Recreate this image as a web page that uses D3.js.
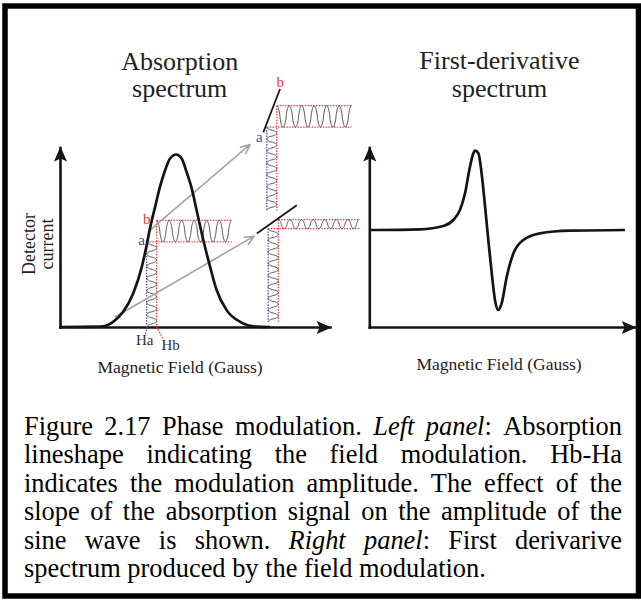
<!DOCTYPE html>
<html>
<head>
<meta charset="utf-8">
<script src="https://cdn.jsdelivr.net/npm/d3@7"></script>
<style>
  body { margin: 0; background: #fff; }
  svg { display: block; }
  text { font-family: "Liberation Serif", "Times New Roman", serif; }
</style>
</head>
<body>
<svg id="chart" width="641" height="600"></svg>
<script>
// Absorption curve (field 0-100, detector current 0-100)
const absField  = [0, 14.8, 19.7, 23.4, 27.1, 30.3, 32.1, 33.3, 35.2, 37.0, 38.9, 40.7, 43.0,
                   45.1, 46.9, 48.8, 50.6, 53.1, 55.6, 58.0, 61.7, 66.7, 72.9, 77.8];
const absSignal = [0, 0.2, 2.9, 8.5, 18.7, 33.5, 45.6, 54.8, 66.8, 77.9, 87.2, 93.7, 96.1,
                   93.7, 86.3, 77.1, 65.0, 48.3, 33.5, 20.6, 9.4, 2.9, 0.2, 0];

// First-derivative curve (field 0-100, signal around zero)
const derivField  = [0, 19.0, 27.7, 31.4, 33.9, 35.8, 37.4, 38.7, 39.5, 40.8, 42.0, 43.3,
                     44.5, 45.8, 47.0, 48.2, 49.5, 51.4, 53.9, 57.6, 63.8, 75.1, 95.6];
const derivSignal = [0, 0.7, 4, 10, 20, 36.7, 60, 75, 79.3, 76.7, 56.7, 23.3,
                     -10, -43.3, -70, -80, -73.3, -46.7, -23.3, -10, -3.3, -0.7, 0];

// Field modulation sketches: lower-left, upper-right, lower-right
const modHa      = [32.1, 76.6, 77.1];
const modHb      = [35.8, 80.3, 80.9];
const modLevelA  = [47.4, 111.3, 54.8];
const modLevelB  = [59.4, 123.3, 59.8];
const modEnd     = [63.6, 108.0, 110.9];
const modBottom  = [0, 65.0, 2.9];
const modCyclesH = [6, 6, 7];
const modCyclesV = [7, 7, 8];

// Tangent segments of the two copies on the right
const slopeStart = [[75.3, 108.5], [72.9, 52.1]];
const slopeEnd   = [[81.5, 132.6], [87.7, 67.8]];

// Grey arrows from the curve to the copies
const arrowFrom = [[33.7, 54.4], [20.4, 5.6]];
const arrowTo   = [[70.4, 101.7], [71.9, 50.6]];

const leftTitle  = ["Absorption", "spectrum"];
const rightTitle = ["First-derivative", "spectrum"];
const yLabel     = ["Detector", "current"];
const xLabel     = "Magnetic Field (Gauss)";

const captionLines = [
  [["Figure 2.17 Phase modulation. ", false], ["Left panel", true], [": Absorption", false]],
  [["lineshape indicating the field modulation. Hb-Ha", false]],
  [["indicates the modulation amplitude. The effect of the", false]],
  [["slope of the absorption signal on the amplitude of the", false]],
  [["sine wave is shown. ", false], ["Right panel", true], [": First derivarive", false]],
  [["spectrum produced by the field modulation.", false]]
];

const RED = "#e8383d", BLUE = "#4a4a9c", INK = "#141414", GREY = "#a3a3a3", WAVE = "#555";

const svg = d3.select("#chart");
svg.append("rect").attr("width", 641).attr("height", 600).attr("fill", "#fff");
svg.append("rect")
  .attr("x", 5).attr("y", 6).attr("width", 633.5).attr("height", 590)
  .attr("fill", "none").attr("stroke", "#000").attr("stroke-width", 5.5);

const xL = d3.scaleLinear().domain([0, 100]).range([60, 330]);
const yL = d3.scaleLinear().domain([0, 100]).range([327, 147.5]);
const xR = d3.scaleLinear().domain([0, 100]).range([369.3, 636.7]);
const yR = d3.scaleLinear().domain([-97, 80]).range([327, 150]);

function drawAxes(x, y, tipExt) {
  const gx = svg.append("g")
    .attr("transform", `translate(0,${y(y.domain()[0])})`)
    .call(d3.axisBottom(x).tickValues([]).tickSizeOuter(0));
  const gy = svg.append("g")
    .attr("transform", `translate(${x(0)},0)`)
    .call(d3.axisLeft(y).tickValues([]).tickSizeOuter(0));
  [gx, gy].forEach(g => g.select(".domain")
    .attr("stroke", INK).attr("stroke-width", 2.6).attr("stroke-linecap", "square"));

  const x0 = x(0), y0 = y(y.domain()[0]);
  const xt = x.range()[1] + tipExt, yt = y.range()[1] - 1;
  svg.append("path")
    .attr("d", `M${xt},${y0 + 0.5}L${xt - 15},${y0 - 6}L${xt - 12},${y0 + 0.5}L${xt - 15},${y0 + 7}Z`)
    .attr("fill", INK);
  svg.append("path")
    .attr("d", `M${x0 + 0.5},${yt}L${x0 - 6},${yt + 15}L${x0 + 0.5},${yt + 12}L${x0 + 7},${yt + 15}Z`)
    .attr("fill", INK);
}
drawAxes(xL, yL, 1.7);
drawAxes(xR, d3.scaleLinear().domain([0, 100]).range([327, 147.5]), 0);

// sine glyphs (slightly squared so the loops read as in the sketch)
const shape = c => { const s = (1 - c) / 2; return Math.pow(s, 0.8); };
function waveH(x0, x1, yTop, yBot, cycles) {
  const n = 300;
  return d3.range(n + 1).map(i => {
    const t = i / n, c = Math.cos(2 * Math.PI * cycles * t);
    const u = c >= 0 ? (1 - Math.pow(c, 0.75)) / 2 : (1 + Math.pow(-c, 0.75)) / 2;
    return [x0 + (x1 - x0) * t, yTop + (yBot - yTop) * u];
  });
}
function waveV(y0, y1, xLft, xRgt, cycles) {
  const n = 300;
  return d3.range(n + 1).map(i => {
    const t = i / n, c = Math.cos(2 * Math.PI * cycles * t);
    const u = c >= 0 ? (1 - Math.pow(c, 0.75)) / 2 : (1 + Math.pow(-c, 0.75)) / 2;
    return [xLft + (xRgt - xLft) * u, y0 + (y1 - y0) * t];
  });
}
const line = d3.line();

modHa.forEach((ha, i) => {
  const xa = xL(ha), xb = xL(modHb[i]);
  const ya = yL(modLevelA[i]), yb = yL(modLevelB[i]);
  const xe = xL(modEnd[i]), yBot = yL(modBottom[i]);
  const dotted = (d, c) => svg.append("path").attr("d", d).attr("fill", "none")
    .attr("stroke", c).attr("stroke-width", 1.3).attr("stroke-dasharray", "1.4,1.4");

  dotted(`M${xb},${yb}H${xe}`, RED);
  dotted(`M${xa},${ya}H${xe}`, RED);
  dotted(`M${xb},${yb}V${yBot}`, RED);
  dotted(`M${xa},${ya}V${yBot}`, BLUE);

  svg.append("path").attr("d", line(waveH(xb, xe, yb, ya, modCyclesH[i])))
    .attr("fill", "none").attr("stroke", WAVE).attr("stroke-width", 1);
  svg.append("path").attr("d", line(waveV(ya, yBot, xa, xb, modCyclesV[i])))
    .attr("fill", "none").attr("stroke", WAVE).attr("stroke-width", 1);
});

// leaders down to Ha / Hb
const base = yL(0);
svg.append("path").attr("d", `M${xL(modHa[0]) + 0.5},${base}L${xL(modHa[0]) - 1.5},${base + 8}`)
  .attr("stroke", BLUE).attr("stroke-width", 1.3).attr("stroke-dasharray", "1.4,1.4").attr("fill", "none");
svg.append("path").attr("d", `M${xL(modHb[0])},${base}L${xL(modHb[0]) + 6},${base + 11}`)
  .attr("stroke", RED).attr("stroke-width", 1.3).attr("stroke-dasharray", "1.4,1.4").attr("fill", "none");

// grey arrows
arrowFrom.forEach((p, i) => {
  const x0 = xL(p[0]), y0 = yL(p[1]), x1 = xL(arrowTo[i][0]), y1 = yL(arrowTo[i][1]);
  const ang = Math.atan2(y1 - y0, x1 - x0), L = 10, spread = 0.42;
  const h1 = [x1 - L * Math.cos(ang - spread), y1 - L * Math.sin(ang - spread)];
  const h2 = [x1 - L * Math.cos(ang + spread), y1 - L * Math.sin(ang + spread)];
  svg.append("path")
    .attr("d", `M${x0},${y0}L${x1},${y1}M${h1}L${x1},${y1}L${h2}`)
    .attr("fill", "none").attr("stroke", GREY).attr("stroke-width", 1.6)
    .attr("stroke-linecap", "round").attr("stroke-linejoin", "round");
});

// absorption curve
const absLine = d3.line().x(d => xL(d[0])).y(d => yL(d[1])).curve(d3.curveMonotoneX);
svg.append("path").attr("d", absLine(absField.map((f, i) => [f, absSignal[i]])))
  .attr("fill", "none").attr("stroke", INK).attr("stroke-width", 2.7);

// tangent segments
slopeStart.forEach((s, i) => {
  svg.append("line")
    .attr("x1", xL(s[0])).attr("y1", yL(s[1]))
    .attr("x2", xL(slopeEnd[i][0])).attr("y2", yL(slopeEnd[i][1]))
    .attr("stroke", INK).attr("stroke-width", 1.8);
});

// derivative curve
const derLine = d3.line().x(d => xR(d[0])).y(d => yR(d[1])).curve(d3.curveMonotoneX);
svg.append("path").attr("d", derLine(derivField.map((f, i) => [f, derivSignal[i]])))
  .attr("fill", "none").attr("stroke", INK).attr("stroke-width", 2.7);

// small labels
const lbl = (x, y, t, c, size) => svg.append("text").attr("x", x).attr("y", y)
  .attr("text-anchor", "middle").attr("font-size", size).attr("fill", c).text(t);
lbl(xL(modHb[0]) - 10, yL(modLevelB[0]) + 4, "b", RED, 15);
lbl(xL(modHa[0]) - 5, yL(modLevelA[0]) + 3, "a", BLUE, 15);
lbl(xL(modHb[1]) + 3.5, yL(modLevelB[1]) - 19, "b", RED, 15);
lbl(xL(modHa[1]) - 7.5, yL(modLevelA[1]) + 14.5, "a", BLUE, 15);
lbl(xL(modHa[0]) - 2, base + 18, "Ha", "#333", 15);
lbl(xL(modHb[0]) + 14, base + 23, "Hb", "#333", 15);

// titles
const title = (x, ys, lines) => lines.forEach((t, i) => svg.append("text")
  .attr("x", x).attr("y", ys[i]).attr("text-anchor", "middle")
  .attr("font-size", 26).attr("fill", "#222").text(t));
title(179.7, [70, 96.7], leftTitle);
title(499.5, [69.3, 97.3], rightTitle);

yLabel.forEach((t, i) => svg.append("text")
  .attr("transform", `translate(${[35, 53][i]},244) rotate(-90)`)
  .attr("text-anchor", "middle").attr("font-size", 18).attr("fill", "#222").text(t));

svg.append("text").attr("x", 180).attr("y", 372.5).attr("text-anchor", "middle")
  .attr("font-size", 17.5).attr("fill", "#222").text(xLabel);
svg.append("text").attr("x", 499).attr("y", 370).attr("text-anchor", "middle")
  .attr("font-size", 17.5).attr("fill", "#222").text(xLabel);

// caption, justified by hand
function toWords(runs) {
  const words = [];
  let cur = [];
  runs.forEach(([t, it]) => {
    t.split(" ").forEach((p, i) => {
      if (i > 0) { if (cur.length) words.push(cur); cur = []; }
      if (p) cur.push([p, it]);
    });
  });
  if (cur.length) words.push(cur);
  return words;
}
const capLeft = 24, capRight = 622, capSize = 26.4, capTop = 435, capStep = 28.4;
captionLines.forEach((runs, li) => {
  const words = toWords(runs);
  const nodes = words.map(w => {
    const t = svg.append("text").attr("y", capTop + li * capStep)
      .attr("font-size", capSize).attr("fill", "#000");
    w.forEach(([s, it]) => t.append("tspan").attr("font-style", it ? "italic" : "normal").text(s));
    return t;
  });
  const widths = nodes.map(n => n.node().getComputedTextLength());
  const total = d3.sum(widths);
  const last = li === captionLines.length - 1;
  const gap = last ? capSize * 0.25 : (capRight - capLeft - total) / (words.length - 1);
  let x = capLeft;
  nodes.forEach((n, i) => { n.attr("x", x); x += widths[i] + gap; });
});
</script>
</body>
</html>
